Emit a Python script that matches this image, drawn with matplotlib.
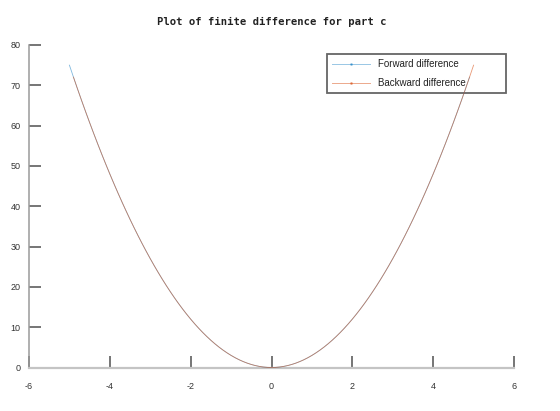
import numpy as np
import matplotlib
matplotlib.use("Agg")
import matplotlib.pyplot as plt
from matplotlib.lines import Line2D

title = "Plot of finite difference for part c"
labels = ["Forward difference", "Backward difference"]
x_ticks = [-6, -4, -2, 0, 2, 4, 6]
y_ticks = [0, 10, 20, 30, 40, 50, 60, 70, 80]

x_forward = np.linspace(-5.0, 4.9, 100)
forward_values = [
    75, 72.03, 69.12, 66.27, 63.48, 60.75, 58.08, 55.47, 52.92, 50.43,
    48, 45.63, 43.32, 41.07, 38.88, 36.75, 34.68, 32.67, 30.72, 28.83,
    27, 25.23, 23.52, 21.87, 20.28, 18.75, 17.28, 15.87, 14.52, 13.23,
    12, 10.83, 9.72, 8.67, 7.68, 6.75, 5.88, 5.07, 4.32, 3.63,
    3, 2.43, 1.92, 1.47, 1.08, 0.75, 0.48, 0.27, 0.12, 0.03,
    0, 0.03, 0.12, 0.27, 0.48, 0.75, 1.08, 1.47, 1.92, 2.43,
    3, 3.63, 4.32, 5.07, 5.88, 6.75, 7.68, 8.67, 9.72, 10.83,
    12, 13.23, 14.52, 15.87, 17.28, 18.75, 20.28, 21.87, 23.52, 25.23,
    27, 28.83, 30.72, 32.67, 34.68, 36.75, 38.88, 41.07, 43.32, 45.63,
    48, 50.43, 52.92, 55.47, 58.08, 60.75, 63.48, 66.27, 69.12, 72.03,
]

x_backward = np.linspace(-4.9, 5.0, 100)
backward_values = [
    72.03, 69.12, 66.27, 63.48, 60.75, 58.08, 55.47, 52.92, 50.43,
    48, 45.63, 43.32, 41.07, 38.88, 36.75, 34.68, 32.67, 30.72, 28.83,
    27, 25.23, 23.52, 21.87, 20.28, 18.75, 17.28, 15.87, 14.52, 13.23,
    12, 10.83, 9.72, 8.67, 7.68, 6.75, 5.88, 5.07, 4.32, 3.63,
    3, 2.43, 1.92, 1.47, 1.08, 0.75, 0.48, 0.27, 0.12, 0.03,
    0, 0.03, 0.12, 0.27, 0.48, 0.75, 1.08, 1.47, 1.92, 2.43,
    3, 3.63, 4.32, 5.07, 5.88, 6.75, 7.68, 8.67, 9.72, 10.83,
    12, 13.23, 14.52, 15.87, 17.28, 18.75, 20.28, 21.87, 23.52, 25.23,
    27, 28.83, 30.72, 32.67, 34.68, 36.75, 38.88, 41.07, 43.32, 45.63,
    48, 50.43, 52.92, 55.47, 58.08, 60.75, 63.48, 66.27, 69.12, 72.03, 75,
]

W, H = 560, 411
fig = plt.figure(figsize=(W / 100, H / 100), dpi=100)
ax = fig.add_axes([29 / W, 1 - 367.5 / H, (514 - 29) / W, (367.5 - 45) / H])

blue = "#0072BD"
orange = "#D95319"
ax.plot(x_forward, forward_values, color=blue, lw=0.6, alpha=0.5, zorder=3)
ax.plot(x_backward, backward_values, color=orange, lw=0.6, alpha=0.6, zorder=3)

ax.set_xlim(-6, 6)
ax.set_ylim(0, 80)
ax.set_xticks(x_ticks)
ax.set_yticks(y_ticks)
ax.set_xticklabels([str(t) for t in x_ticks])
ax.set_yticklabels([str(t) for t in y_ticks])

for s in ["top", "right"]:
    ax.spines[s].set_visible(False)
ax.spines["left"].set_color("#9a9a9a")
ax.spines["left"].set_linewidth(1.1)
ax.spines["bottom"].set_color("#c4c4c4")
ax.spines["bottom"].set_linewidth(1.6)

ax.tick_params(axis="both", direction="in", length=8.6, width=1.1,
               color="#505050", labelsize=6.5, labelcolor="#333333",
               labelfontfamily="Liberation Sans")
ax.tick_params(axis="y", pad=6)
ax.tick_params(axis="x", pad=10.5)

fig.text(271.5 / W, 1 - 22 / H, title, ha="center", va="center",
         family="DejaVu Sans Mono", fontsize=7.6, fontweight="bold",
         color="#222222")

handles = [
    Line2D([0], [0], color=blue, lw=0.7, alpha=0.4, marker=".", markersize=2),
    Line2D([0], [0], color=orange, lw=0.7, alpha=0.5, marker=".", markersize=2),
]
leg = ax.legend(handles, labels, loc="upper left",
                bbox_to_anchor=(327 / W, 1 - 89 / H, (506 - 327) / W, 35 / H),
                bbox_transform=fig.transFigure, mode="expand",
                prop={"family": "Liberation Sans", "size": 7},
                fancybox=False, framealpha=1, edgecolor="#666666",
                handlelength=3.9, handletextpad=0.8, labelspacing=0.9,
                borderpad=0.55, borderaxespad=0)
leg.get_frame().set_linewidth(1.3)
leg.set_zorder(1)
for t in leg.get_texts():
    t.set_color("#222222")

fig.savefig("out.png", dpi=100)
